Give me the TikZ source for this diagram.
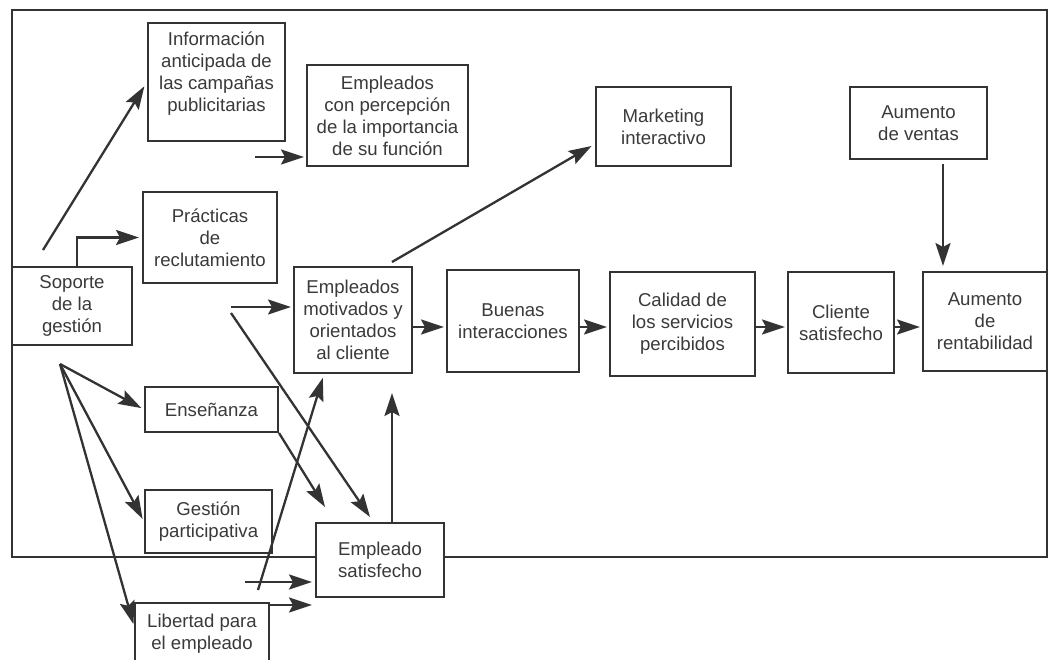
\documentclass[tikz,border=0pt]{standalone}
\usepackage{fontspec}
\setmainfont{Liberation Sans}
\usetikzlibrary{arrows.meta,calc}
\definecolor{linec}{HTML}{333333}
\definecolor{txtc}{HTML}{3A3A3A}
\begin{document}
\begin{tikzpicture}[x=1pt,y=-1pt,
  txt/.style={inner sep=0pt, align=center, text=txtc, font=\fontsize{18.6}{22}\selectfont},
  bx/.style={txt, draw=linec, line width=2pt, fill=white},
  arr/.style={draw=linec, line width=2.3pt, -{Stealth[length=23pt,width=15pt,inset=4pt]}}]
\useasboundingbox (0,0) rectangle (1050,659);
\clip (0,0) rectangle (1050,659);
\fill[white] (0,0) rectangle (1050,659);
% outer frame
\draw[linec, line width=2.5pt] (12,10) rectangle (1047,557);
% boxes
\node[bx, minimum width=137pt, minimum height=118pt] (info) at (216.5,82) {};
\node[txt] (infotxt) at (216.5,73.5) {Información\\anticipada de\\las campañas\\publicitarias};
\node[bx, minimum width=161pt, minimum height=101pt] (percep) at (387.5,115.5) {Empleados\\con percepción\\de la importancia\\de su función};
\node[bx, minimum width=134pt, minimum height=91pt] (prac) at (210,237.5) {Prácticas\\de\\reclutamiento};
\node[bx, minimum width=120pt, minimum height=78pt] (sop) at (72,306) {Soporte\\de la\\gestión};
\node[bx, minimum width=118pt, minimum height=106pt] (mot) at (353,320) {Empleados\\motivados y\\orientados\\al cliente};
\node[bx, minimum width=133pt, minimum height=45pt] (ens) at (211.5,409.5) {Enseñanza};
\node[bx, minimum width=127pt, minimum height=63pt] (gest) at (208.5,521.5) {Gestión\\participativa};
\node[bx, minimum width=128pt, minimum height=74pt] (sat) at (380,560) {Empleado\\satisfecho};
\node[bx, minimum width=134pt, minimum height=62pt] (lib) at (202,634) {Libertad para\\el empleado};
\node[bx, minimum width=135pt, minimum height=79pt] (mkt) at (663.5,126.5) {Marketing\\interactivo};
\node[bx, minimum width=132pt, minimum height=102pt] (buen) at (513,321) {Buenas\\interacciones};
\node[bx, minimum width=145pt, minimum height=104pt] (cal) at (682.5,324) {Calidad de\\los servicios\\percibidos};
\node[bx, minimum width=106pt, minimum height=101pt] (cli) at (841,322.5) {Cliente\\satisfecho};
\node[bx, minimum width=124pt, minimum height=99pt] (rent) at (985,321.5) {Aumento\\de\\rentabilidad};
\node[bx, minimum width=137pt, minimum height=72pt] (vent) at (918.5,123) {Aumento\\de ventas};
% helper coordinates
\coordinate (x77) at (77,0);
\coordinate (x392) at (392,0);
\coordinate (x943) at (943,0);
\coordinate (row) at (0,327);
\coordinate (a1s) at (43,250);
\coordinate (p1) at (255,157);
\coordinate (m1) at (231,307);
\coordinate (m2) at (231,313);
\coordinate (m2e) at (370,517);
\coordinate (e1e) at (325,507);
\coordinate (s1) at (258,590);
\coordinate (fan) at (60,364);
\coordinate (b1) at (245,582);
\coordinate (lb) at ($(lib.north east)+(0,3)$);
\coordinate (mktin) at ($(mkt.south west)+(0,-23)$);
\coordinate (motout) at ($(mot.north -| x392)+(0,-4)$);
\coordinate (libin) at ($(lib.north west)+(0,24)$);
\coordinate (motin) at ($(mot.south west)+(31,0)$);
% connectors
\draw[arr, shorten >=5pt] (a1s) -- (info.west);
\draw[arr, shorten >=2pt] (p1) -- (p1 -| percep.west);
\draw[arr, shorten >=3pt] (sop.north -| x77) |- (prac.west);
\draw[arr, shorten >=2pt] (m1) -- (m1 -| mot.west);
\draw[arr] (m2) -- (m2e);
\draw[arr] (ens.south east) -- (e1e);
\draw[arr, shorten >=4pt] (s1) -- (motin);
\draw[arr, shorten >=19pt] (sat.north -| x392) -- (mot.south -| x392);
\draw[arr, shorten >=4pt] (motout) -- (mktin);
\draw[arr, shorten >=2pt] (mot.east |- row) -- (buen.west |- row);
\draw[arr, shorten >=2pt] (buen.east |- row) -- (cal.west |- row);
\draw[arr, shorten >=2pt] (cal.east |- row) -- (cli.west |- row);
\draw[arr, shorten >=2pt] (cli.east |- row) -- (rent.west |- row);
\draw[arr, shorten <=4pt, shorten >=5pt] (vent.south -| x943) -- (rent.north -| x943);
\draw[arr, shorten >=3pt] (fan) -- (ens.west);
\draw[arr, shorten >=3pt] (fan) -- (gest.west);
\draw[arr, shorten >=2pt] (fan) -- (libin);
\draw[arr, shorten >=3pt] (b1) -- (b1 -| sat.west);
\draw[arr, shorten >=3pt] (lb) -- (lb -| sat.west);
\end{tikzpicture}
\end{document}
